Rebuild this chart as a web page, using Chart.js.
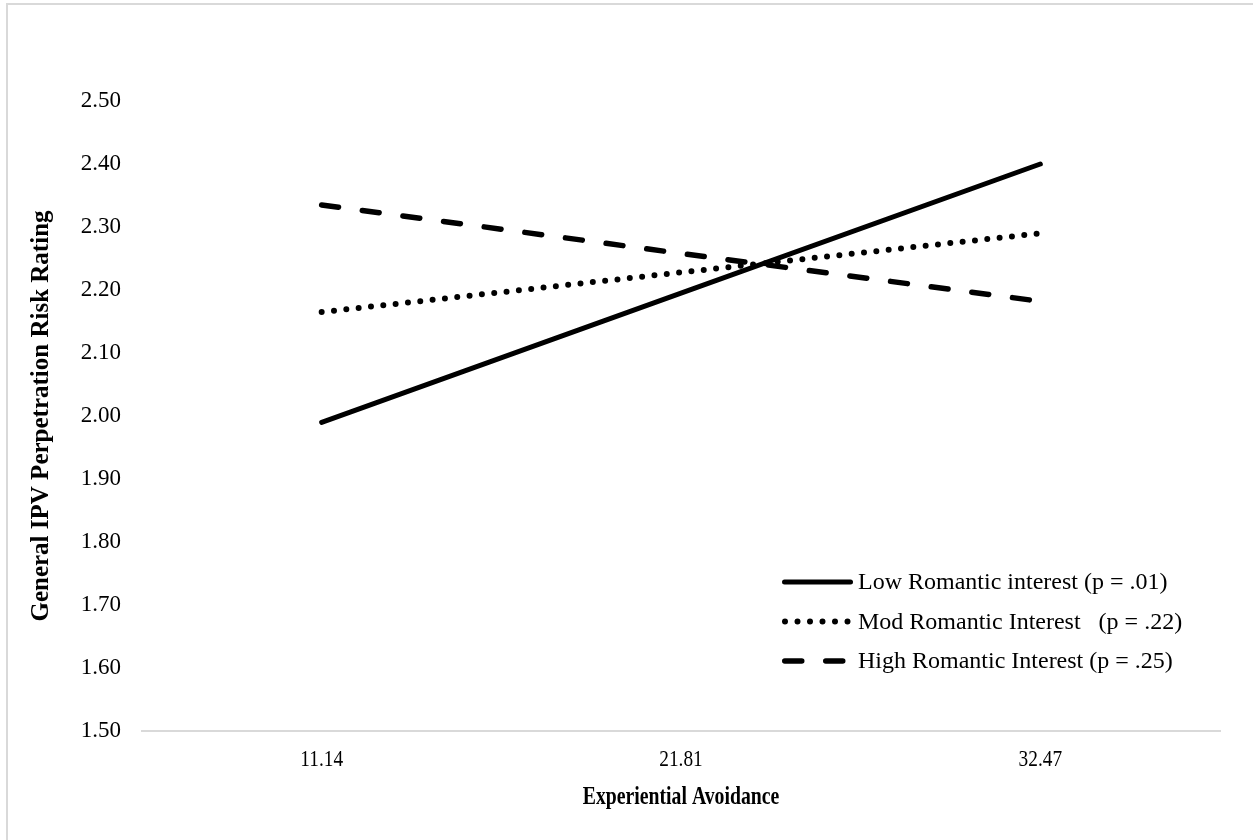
<!DOCTYPE html>
<html>
<head>
<meta charset="utf-8">
<script src="https://cdn.jsdelivr.net/npm/chart.js@4.4.1/dist/chart.umd.min.js"></script>
<style>
  html, body { margin: 0; padding: 0; background: #fff; overflow: hidden; }
  #wrap { position: relative; width: 1253px; height: 840px; }
  #frame { position: absolute; left: 6px; top: 3px; width: 1300px; height: 900px;
           border-left: 2px solid #d9d9d9; border-top: 2px solid #d9d9d9; pointer-events: none; }
  canvas { position: absolute; left: 0; top: 0; }
</style>
</head>
<body>
<div id="wrap">
  <canvas id="chart" width="1253" height="840"></canvas>
  <div id="frame"></div>
</div>
<script>
// Experiential avoidance levels (x categories)
const avoidanceLevels = ['11.14', '21.81', '32.47'];

// Predicted IPV perpetration risk rating per romantic-interest level
const lowInterest  = [1.99, 2.195, 2.40];
const modInterest  = [2.165, 2.228, 2.29];
const highInterest = [2.335, 2.258, 2.182];

const seriesNames = [
  'Low Romantic interest (p = .01)',
  'Mod Romantic Interest   (p = .22)',
  'High Romantic Interest (p = .25)'
];

const xAxisTitle = 'Experiential Avoidance';
const yAxisTitle = 'General IPV Perpetration Risk Rating';

const yMin = 1.5, yMax = 2.5, yStep = 0.1;

const SERIF = '"Liberation Serif", "Times New Roman", Times, serif';

// Legend drawn inside the plot area, lower right
const insideLegend = {
  id: 'insideLegend',
  afterDraw(chart, args, opts) {
    const { ctx, chartArea } = chart;
    const x0 = chartArea.left + opts.offsetX;
    const lineLen = opts.lineLength;
    ctx.save();
    chart.data.datasets.forEach((ds, i) => {
      const y = chartArea.top + opts.offsetY + i * opts.rowGap;
      ctx.beginPath();
      ctx.strokeStyle = ds.borderColor;
      ctx.lineWidth = ds.borderWidth;
      ctx.lineCap = ds.borderCapStyle || 'butt';
      ctx.setLineDash(ds.legendDash || ds.borderDash || []);
      const half = ds.borderWidth / 2;
      ctx.moveTo(x0 + half, y);
      ctx.lineTo(x0 + lineLen - half, y);
      ctx.stroke();
      ctx.setLineDash([]);
      ctx.fillStyle = '#000';
      ctx.font = opts.font;
      ctx.textBaseline = 'middle';
      ctx.textAlign = 'left';
      ctx.fillText(ds.label, x0 + lineLen + opts.textGap, y + 1);
    });
    ctx.restore();
  }
};

// Narrow (horizontally condensed) category labels and title under the x axis
const condensedXAxis = {
  id: 'condensedXAxis',
  afterDraw(chart, args, opts) {
    const { ctx, chartArea } = chart;
    const xs = chart.scales.x;
    ctx.save();
    ctx.fillStyle = '#000';
    ctx.textAlign = 'center';
    ctx.textBaseline = 'middle';
    ctx.font = opts.tickFont;
    xs.ticks.forEach((t, i) => {
      const px = xs.getPixelForTick(i);
      ctx.save();
      ctx.translate(px, chartArea.bottom + opts.tickOffset);
      ctx.scale(opts.squeeze, 1);
      ctx.fillText(xs.getLabelForValue(t.value), 0, 0);
      ctx.restore();
    });
    ctx.font = opts.titleFont;
    ctx.translate((chartArea.left + chartArea.right) / 2, chartArea.bottom + opts.titleOffset);
    ctx.scale(opts.titleSqueeze, 1);
    ctx.fillText(opts.title, 0, 0);
    ctx.restore();
  }
};

new Chart(document.getElementById('chart'), {
  type: 'line',
  data: {
    labels: avoidanceLevels,
    datasets: [
      { label: seriesNames[0], data: lowInterest, borderColor: '#000', borderWidth: 5,
        borderCapStyle: 'round', borderDash: [] },
      { label: seriesNames[1], data: modInterest, borderColor: '#000', borderWidth: 6,
        borderCapStyle: 'round', borderDash: [0, 12.4], legendDash: [0, 12.5] },
      { label: seriesNames[2], data: highInterest, borderColor: '#000', borderWidth: 5.5,
        borderCapStyle: 'round', borderDash: [17, 24], legendDash: [17, 24] }
    ]
  },
  options: {
    responsive: false,
    animation: false,
    devicePixelRatio: 1,
    layout: { padding: { left: 0, top: 101, right: 33, bottom: 0 } },
    elements: { point: { radius: 0, hoverRadius: 0 }, line: { tension: 0 } },
    plugins: {
      legend: { display: false },
      tooltip: { enabled: false },
      insideLegend: {
        offsetX: 640, offsetY: 481, rowGap: 39.5, lineLength: 71, textGap: 5,
        font: '24px ' + SERIF
      },
      condensedXAxis: {
        tickFont: '23px ' + SERIF, squeeze: 0.84, tickOffset: 29,
        titleFont: 'bold 25px ' + SERIF, titleSqueeze: 0.79, titleOffset: 67,
        title: xAxisTitle
      }
    },
    scales: {
      x: {
        type: 'category',
        offset: true,
        grid: { display: false, drawTicks: false },
        border: { display: true, color: '#d9d9d9', width: 2 },
        ticks: { display: false },
        title: { display: false },
        afterFit(scale) { scale.height = 109; }
      },
      y: {
        min: yMin, max: yMax,
        grid: { display: false, drawTicks: false },
        border: { display: false },
        ticks: {
          stepSize: yStep, color: '#000', padding: 21,
          font: { family: SERIF, size: 23 },
          callback: v => Number(v).toFixed(2)
        },
        title: {
          display: true, text: yAxisTitle, color: '#000',
          font: { family: SERIF, size: 25, weight: 'bold' },
          padding: { top: 27, bottom: 0 }
        },
        afterFit(scale) { scale.width = 142; }
      }
    }
  },
  plugins: [insideLegend, condensedXAxis]
});
</script>
</body>
</html>
